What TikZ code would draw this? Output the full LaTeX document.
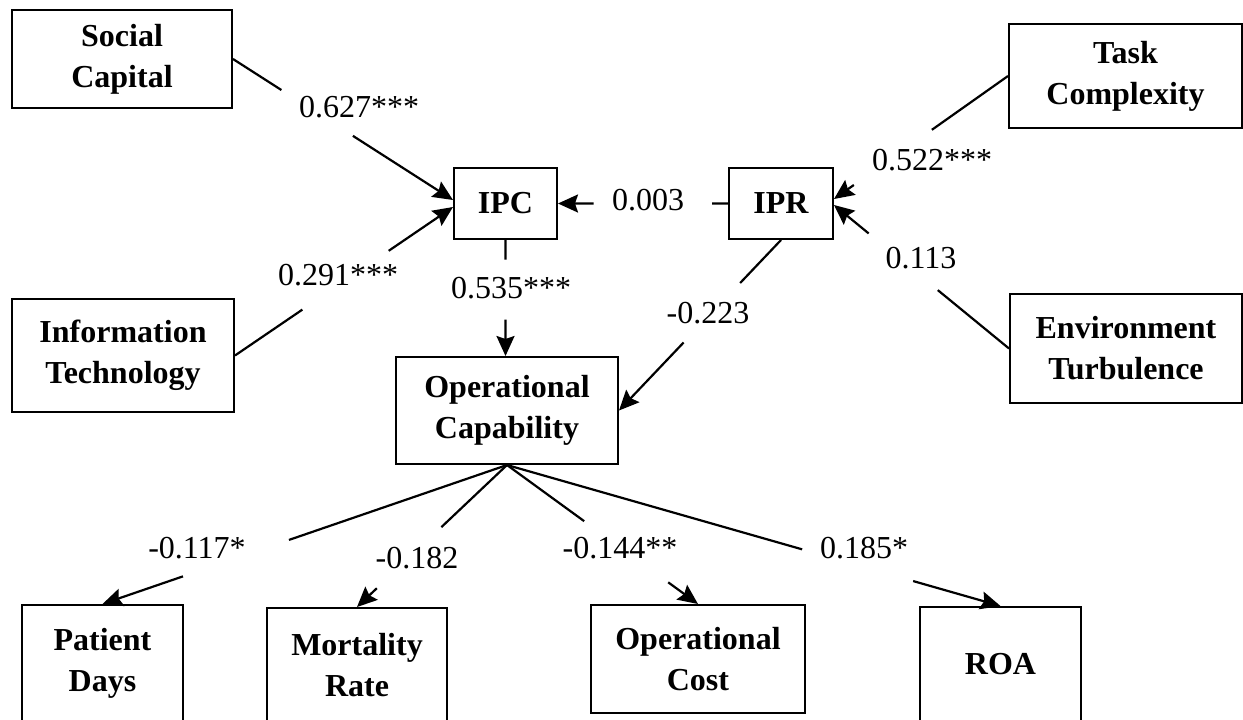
\documentclass[tikz,border=0pt]{standalone}
\usepackage{fontspec}
\setmainfont{Liberation Serif}
\usetikzlibrary{calc,arrows.meta}
\newcommand\gapconn[5]{%
  \coordinate (#5a) at ($(#1)!#3!(#2)$);
  \coordinate (#5b) at ($(#1)!#4!(#2)$);
  \draw[conn] (#1) -- (#5a);
  \draw[conn,arr] (#5b) -- (#2);
}
\begin{document}
\begin{tikzpicture}[x=0.5pt,y=-0.5pt,
  box/.style={draw,line width=1pt,inner sep=0pt,align=center,
    font=\fontsize{16}{20.5}\selectfont\bfseries},
  coef/.style={inner sep=0pt,font=\fontsize{16}{19}\selectfont},
  conn/.style={line width=1.1pt},
  arr/.style={-{Stealth[length=10pt,width=9pt,inset=1.5pt]}}]
\useasboundingbox (0,0) rectangle (1243,719);
% boxes
\node[box,minimum width=110pt,minimum height=49pt]   (SC)  at (122,59)     {Social\\Capital};
\node[box,minimum width=116.5pt,minimum height=52pt] (TC)  at (1125.5,76)  {Task\\Complexity};
\node[box,minimum width=51.5pt,minimum height=35.5pt](IPC) at (505.5,203.5){IPC};
\node[box,minimum width=52pt,minimum height=35.5pt]  (IPR) at (781,203.5)  {IPR};
\node[box,minimum width=111pt,minimum height=56.5pt] (IT)  at (123,355.5)  {Information\\Technology};
\node[box,minimum width=116pt,minimum height=54.5pt] (ET)  at (1126,348.5) {Environment\\Turbulence};
\node[box,minimum width=111pt,minimum height=53.5pt] (OC)  at (507,410.5)  {Operational\\Capability};
\node[box,minimum width=80.5pt,minimum height=58.5pt](PD)  at (102.5,663.5){Patient\\Days};
\node[box,minimum width=90pt,minimum height=57pt]    (MR)  at (357,665)    {Mortality\\Rate};
\node[box,minimum width=107pt,minimum height=54pt]   (OCo) at (698,659)    {Operational\\Cost};
\node[box,minimum width=80.5pt,minimum height=57.5pt](ROA) at (1000.5,664.5){ROA};
% arrow end points
\coordinate (tSC) at ([yshift=1.75pt]IPC.west);
\coordinate (tIT) at ([yshift=-1.75pt]IPC.west);
\coordinate (tOC) at (IPC.south |- OC.north);
\coordinate (tTC) at ([yshift=2.25pt]IPR.east);
\coordinate (tET) at ([yshift=-0.75pt]IPR.east);
% connectors (with gaps for coefficients)
\gapconn{SC.east}{tSC}{0.22}{0.545}{c1}
\gapconn{IT.east}{tIT}{0.309}{0.705}{c2}
\gapconn{IPR.west}{IPC.east}{0.093}{0.791}{c3}
\gapconn{IPC.south}{tOC}{0.17}{0.686}{c4}
\gapconn{IPR.south}{OC.east}{0.252}{0.601}{c5}
\gapconn{TC.west}{tTC}{0.4375}{0.886}{c6}
\gapconn{ET.west}{tET}{0.407}{0.802}{c7}
\gapconn{OC.south}{PD.north}{0.539}{0.801}{c8}
\gapconn{OC.south}{MR.north}{0.4375}{0.868}{c9}
\gapconn{OC.south}{OCo.north}{0.404}{0.844}{c10}
\gapconn{OC.south}{ROA.north}{0.598}{0.823}{c11}
% coefficients
\node[coef] (l1)  at (359,107) {0.627***};
\node[coef] (l2)  at (338,275) {0.291***};
\node[coef] (l3)  at (648,200) {0.003};
\node[coef] (l4)  at (511,288) {0.535***};
\node[coef] (l5)  at (708,313) {-0.223};
\node[coef] (l6)  at (932,160) {0.522***};
\node[coef] (l7)  at (921,258) {0.113};
\node[coef] (l8)  at (197,548) {-0.117*};
\node[coef] (l9)  at (417,558) {-0.182};
\node[coef] (l10) at (620,548) {-0.144**};
\node[coef] (l11) at (864,548) {0.185*};
\end{tikzpicture}
\end{document}
